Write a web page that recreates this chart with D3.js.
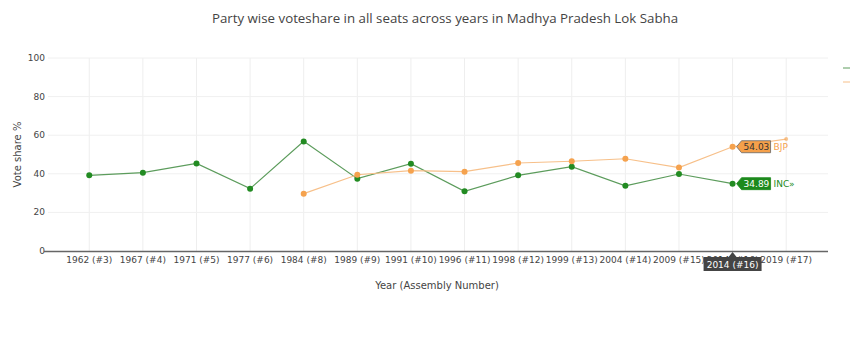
<!DOCTYPE html>
<meta charset="utf-8">
<script src="https://d3js.org/d3.v7.min.js"></script>
<style>
  body { margin: 0; background: #fff; }
  text { font-family: "DejaVu Sans", Verdana, sans-serif; }
</style>
<div id="chart"></div>
<script>

// categories and values
var years = ["1962 (#3)", "1967 (#4)", "1971 (#5)", "1977 (#6)", "1984 (#8)", "1989 (#9)", "1991 (#10)",
             "1996 (#11)", "1998 (#12)", "1999 (#13)", "2004 (#14)", "2009 (#15)", "2014 (#16)", "2019 (#17)"];
var inc = [39.2, 40.6, 45.4, 32.3, 56.8, 37.5, 45.2, 30.9, 39.2, 43.7, 33.8, 39.9, 34.89, null];
var bjp = [null, null, null, null, 29.7, 39.5, 41.6, 41.1, 45.6, 46.5, 47.8, 43.2, 54.03, 58.0];
var yTicks = [0, 20, 40, 60, 80, 100];
var hoverIndex = 12;

var width = 850, height = 339;
var margin = {top: 58, right: 22, bottom: 88, left: 48};

var svg = d3.select("#chart").append("svg")
    .attr("width", width)
    .attr("height", height);

var x = d3.scaleLinear()
    .domain([-0.77, years.length - 1 + 0.78])
    .range([margin.left, width - margin.right]);
var y = d3.scaleLinear()
    .domain([0, 100])
    .range([height - margin.bottom, margin.top]);

// title
svg.append("text")
    .attr("x", 445).attr("y", 23)
    .attr("text-anchor", "middle")
    .style("font-family", "'Open Sans', sans-serif")
    .style("font-size", "13.3px")
    .style("fill", "#444")
    .text("Party wise voteshare in all seats across years in Madhya Pradesh Lok Sabha");

// grid
svg.append("g").selectAll("line.v")
  .data(years).enter().append("line")
    .attr("x1", function(d, i) { return x(i); })
    .attr("x2", function(d, i) { return x(i); })
    .attr("y1", y(0)).attr("y2", y(100))
    .style("stroke", "#eee");
svg.append("g").selectAll("line.h")
  .data(yTicks.slice(1)).enter().append("line")
    .attr("x1", x.range()[0]).attr("x2", x.range()[1])
    .attr("y1", function(d) { return y(d); })
    .attr("y2", function(d) { return y(d); })
    .style("stroke", "#f0f0f0");

// y axis labels
svg.append("g").selectAll("text")
  .data(yTicks).enter().append("text")
    .attr("x", margin.left - 3)
    .attr("y", function(d) { return y(d) + 3; })
    .attr("text-anchor", "end")
    .style("font-size", "9px")
    .style("fill", "#444")
    .text(function(d) { return d; });

// x axis line
svg.append("line")
    .attr("x1", x.range()[0] - 4).attr("x2", x.range()[1])
    .attr("y1", y(0) + 0.5).attr("y2", y(0) + 0.5)
    .style("stroke", "#666").style("stroke-width", 1.3);

svg.append("g").selectAll("text")
  .data(years).enter().append("text")
    .attr("x", function(d, i) { return x(i); })
    .attr("y", y(0) + 12)
    .attr("text-anchor", "middle")
    .style("font-size", "9px")
    .style("fill", "#444")
    .text(function(d) { return d; });

// axis titles
svg.append("text")
    .attr("x", 437).attr("y", 289)
    .attr("text-anchor", "middle")
    .style("font-size", "10px").style("fill", "#444")
    .text("Year (Assembly Number)");
svg.append("text")
    .attr("transform", "translate(21," + y(50) + ") rotate(-90)")
    .attr("text-anchor", "middle")
    .style("font-size", "10px").style("fill", "#444")
    .text("Vote share %");

// series
var series = [
  {name: "INC", values: inc, line: "#5c9c5c", dot: "#228b22", box: "#1d8a1d", txt: "#fff", lab: "INC\u00bb"},
  {name: "BJP", values: bjp, line: "#f7c08a", dot: "#f5a24e", box: "#f5a04a", txt: "#333", lab: "BJP"}
];

var line = d3.line()
    .defined(function(d) { return d != null; })
    .x(function(d, i) { return x(i); })
    .y(function(d) { return y(d); });

series.forEach(function(s) {
  svg.append("path")
      .datum(s.values)
      .attr("d", line)
      .style("fill", "none")
      .style("stroke", s.line)
      .style("stroke-width", 1.2);

  svg.append("g").selectAll("circle")
    .data(s.values.map(function(v, i) { return {v: v, i: i}; }).filter(function(d) { return d.v != null; }))
    .enter().append("circle")
      .attr("cx", function(d) { return x(d.i); })
      .attr("cy", function(d) { return y(d.v); })
      .attr("r", function(d) { return d.i == 13 ? 2 : 3; })
      .style("opacity", function(d) { return d.i == 13 ? 0.6 : 1; })
      .style("fill", s.dot);

  // hover label
  var v = s.values[hoverIndex];
  var hx = x(hoverIndex) + 4, hy = y(v);
  svg.append("path")
      .attr("d", "M" + hx + "," + hy + "l5,-6h29v12h-29z")
      .style("fill", s.box)
      .style("stroke", s.name == "BJP" ? "#666" : s.box)
      .style("stroke-width", 0.8);
  svg.append("text")
      .attr("x", hx + 7).attr("y", hy + 3.5)
      .style("font-size", "9px")
      .style("fill", s.txt)
      .text(v.toFixed(2));
  svg.append("text")
      .attr("x", hx + 37).attr("y", hy + 3.5)
      .style("font-size", "9px")
      .style("fill", s.dot)
      .text(s.lab);
});

// x hover label
var lx = x(hoverIndex);
svg.append("path")
    .attr("d", "M" + lx + "," + (y(0) + 1) + "l4,5h25v14h-58v-14h25z")
    .style("fill", "#444");
svg.append("text")
    .attr("x", lx).attr("y", y(0) + 16.5)
    .attr("text-anchor", "middle")
    .style("font-size", "9px").style("fill", "#fff")
    .text(years[hoverIndex]);

// legend, cut at the right edge
svg.append("line").attr("x1", 843).attr("x2", 856).attr("y1", 68).attr("y2", 68)
    .style("stroke", "#5c9c5c");
svg.append("line").attr("x1", 843).attr("x2", 856).attr("y1", 82).attr("y2", 82)
    .style("stroke", "#f7c08a");

</script>
